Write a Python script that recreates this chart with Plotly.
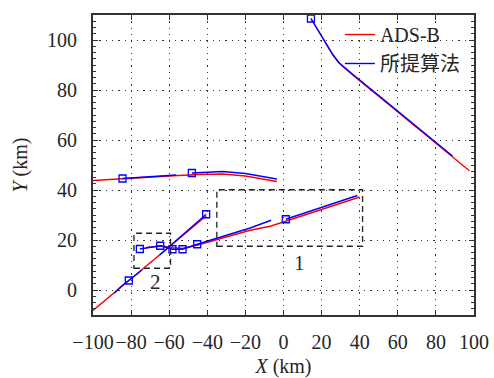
import plotly.graph_objects as go

# ---- data (km) ----
# Track A (north-east)
redA_x = [14.4, 18, 22, 26, 29, 31, 36, 50, 70, 88.7, 97.6]
redA_y = [108.6, 104, 99, 94, 91, 89.5, 86.2, 77.5, 65, 53.6, 47.7]
bluA_x = [14.4, 18, 22, 26, 29, 31, 36, 50, 70, 88.7]
bluA_y = [108.6, 104, 99, 94, 91, 89.7, 86.5, 77.8, 65.3, 53.6]

# Track B (horizontal ~45 km)
redB_x = [-100, -80, -60, -45, -32, -20, -10, -3.5]
redB_y = [43.8, 44.8, 45.6, 46.2, 46.4, 45.6, 44.4, 43.4]
bluB1_x = [-84.5, -70, -56.3]
bluB1_y = [44.6, 45.2, 46.0]
bluB2_x = [-48.1, -40, -32, -20, -10, -3.5]
bluB2_y = [46.8, 47.2, 47.4, 46.6, 45.4, 44.4]

# Track C (diagonal)
redC_x = [-100, -80, -60, -40.6]
redC_y = [-8.2, 4.5, 17.3, 29.6]
bluC1_x = [-88.7, -85, -81.2, -77, -74.3]
bluC1_y = [-1.2, 1.6, 3.8, 6.2, 8.0]
bluC2_x = [-65, -55, -40.6]
bluC2_y = [14.0, 20.6, 30.3]

# Track D (through boxes 2 and 1)
redD_x = [-72, -64, -58, -53, -45, -30, -17.5, -6.5, 1, 20, 40]
redD_y = [17.0, 17.6, 16.9, 16.6, 18.0, 21.3, 23.9, 25.6, 27.5, 32.4, 37.2]
bluD1_x = [-75.4, -64.7, -58.3, -53, -45.3, -30, -17.5, -6.5]
bluD1_y = [16.4, 17.7, 16.3, 16.3, 18.3, 22.0, 24.8, 27.9]
bluD2_x = [1.2, 20, 38.8]
bluD2_y = [28.3, 33.1, 37.8]

# square markers on estimated track
mark_x = [14.4, -84.5, -48.1, -81.2, -40.6, -75.4, -64.7, -58.3, -53, -45.3, 1.2]
mark_y = [108.6, 44.6, 46.8, 3.8, 30.3, 16.4, 17.7, 16.3, 16.3, 18.3, 28.3]

# dashed zoom boxes: [x0, x1, y0, y1]
box1 = [-35, 41.5, 17.5, 40.1]
box2 = [-78.5, -59.3, 8.7, 22.7]
box_labels = ["1", "2"]
label_x = [8.4, -67.3]
label_y = [10.7, 3.4]

x_ticks = list(range(-100, 101, 20))
y_ticks = list(range(0, 101, 20))

RED = "#ff0000"
BLUE = "#0000ff"
FONT = "Liberation Serif"
TXT = "#262626"

fig = go.Figure()

def line(x, y, color, name=None, show=False):
    fig.add_trace(go.Scatter(x=x, y=y, mode="lines", line=dict(color=color, width=1.4),
                             name=name, showlegend=show))

line(redA_x, redA_y, RED, "ADS-B", True)
line(bluA_x, bluA_y, BLUE, "所提算法", True)
for xs, ys in [(redB_x, redB_y), (redC_x, redC_y), (redD_x, redD_y)]:
    line(xs, ys, RED)
for xs, ys in [(bluB1_x, bluB1_y), (bluB2_x, bluB2_y), (bluC1_x, bluC1_y),
               (bluC2_x, bluC2_y), (bluD1_x, bluD1_y), (bluD2_x, bluD2_y)]:
    line(xs, ys, BLUE)

fig.add_trace(go.Scatter(x=mark_x, y=mark_y, mode="markers", showlegend=False,
                         marker=dict(symbol="square-open", size=7, color=BLUE,
                                     line=dict(width=1.3, color=BLUE))))

for b in (box1, box2):
    fig.add_shape(type="rect", x0=b[0], x1=b[1], y0=b[2], y1=b[3],
                  line=dict(color="#222", width=1.3, dash="6px,4px"))

for t, lx, ly in zip(box_labels, label_x, label_y):
    fig.add_annotation(x=lx, y=ly, text=t, showarrow=False,
                       font=dict(family=FONT, size=21, color=TXT))

axis_common = dict(
    showline=True, linecolor="#333", linewidth=1.8, mirror="allticks",
    ticks="inside", ticklen=5, tickcolor="#333", tickwidth=1.2,
    showgrid=True, gridcolor="#333", griddash="1.3px,5px", gridwidth=1.3,
    zeroline=False, automargin=False,
    tickfont=dict(family=FONT, size=20, color=TXT),
)

fig.update_xaxes(range=[-100, 100], tickvals=x_ticks, ticklabelstandoff=8, tickangle=0,
                 **axis_common,
                 title=dict(text="<i>X</i> (km)", font=dict(family=FONT, size=20, color=TXT),
                            standoff=16))
fig.update_yaxes(range=[-10, 110], tickvals=y_ticks, ticklabelstandoff=10, **axis_common,
                 minor=dict(ticks="inside", ticklen=3, tickcolor="#333", dtick=2.5, showgrid=False),
                 title=dict(text="<i>Y</i> (km)", font=dict(family=FONT, size=20, color=TXT),
                            standoff=14))

fig.update_layout(
    width=494, height=378,
    margin=dict(l=93, r=20, t=15, b=63),
    plot_bgcolor="white", paper_bgcolor="white",
    legend=dict(x=0.648, y=1.0, xanchor="left", yanchor="top",
                bgcolor="rgba(255,255,255,0)", borderwidth=0,
                font=dict(family=FONT + ", Noto Sans CJK SC", size=20, color=TXT),
                tracegroupgap=0, itemwidth=30),
)

fig.write_html("out.html")
